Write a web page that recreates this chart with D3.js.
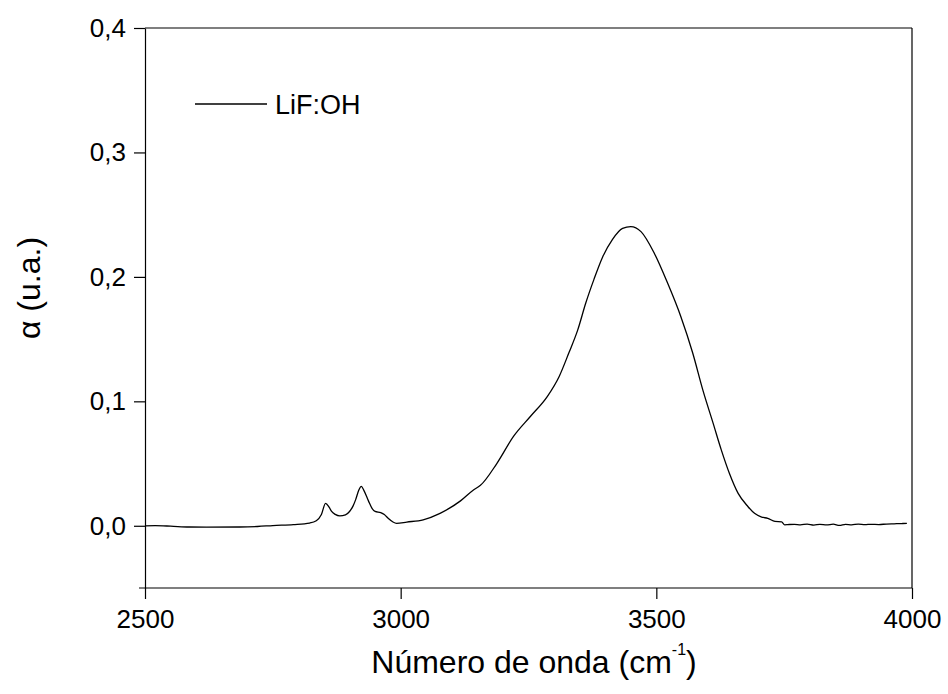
<!DOCTYPE html>
<html>
<head>
<meta charset="utf-8">
<script src="https://cdn.jsdelivr.net/npm/d3@7"></script>
<style>
  html, body { margin: 0; padding: 0; background: #fff; }
  svg { display: block; font-family: "Liberation Sans", Arial, sans-serif; }
</style>
</head>
<body>
<svg id="chart" width="948" height="694"></svg>
<script>
// IR absorption spectrum of LiF:OH
const wavenumber = [
  2500, 2520, 2550, 2586, 2620, 2685, 2720, 2750, 2790, 2822, 2835, 2845, 2853, 2860,
  2865, 2872, 2881, 2892, 2900, 2907, 2912, 2918, 2923, 2928, 2937, 2944, 2950, 2961,
  2968, 2976, 2985, 2992, 3012, 3044, 3077, 3117, 3143, 3156, 3188, 3221, 3254, 3287,
  3310, 3329, 3346, 3362, 3378, 3395, 3414, 3434, 3450, 3470, 3496, 3522, 3548, 3571,
  3591, 3611, 3627, 3643, 3660, 3679, 3692, 3706, 3718, 3732, 3745, 3751, 3758, 3770,
  3782, 3795, 3808, 3820, 3833, 3846, 3858, 3870, 3882, 3895, 3908, 3920, 3935, 3950,
  3965, 3980, 3990
];
const alpha = [
  0.0000, 0.0001, -0.0003, -0.0010, -0.0011, -0.0010, -0.0006, 0.0002, 0.0010, 0.0022, 0.0040, 0.0090, 0.0180, 0.0150,
  0.0115, 0.0092, 0.0080, 0.0088, 0.0115, 0.0160, 0.0210, 0.0285, 0.0316, 0.0285, 0.0200, 0.0140, 0.0115, 0.0105,
  0.0090, 0.0058, 0.0030, 0.0020, 0.0030, 0.0048, 0.0100, 0.0200, 0.0290, 0.0325, 0.0500, 0.0720, 0.0880, 0.1040,
  0.1200, 0.1390, 0.1570, 0.1790, 0.1980, 0.2160, 0.2300, 0.2390, 0.2404, 0.2364, 0.2190, 0.1950, 0.1680, 0.1390,
  0.1090, 0.0825, 0.0610, 0.0420, 0.0260, 0.0155, 0.0100, 0.0070, 0.0060, 0.0035, 0.0032, 0.0008, 0.0010, 0.0012,
  0.0008, 0.0014, 0.0006, 0.0012, 0.0007, 0.0013, 0.0003, 0.0012, 0.0008, 0.0013, 0.0009, 0.0012, 0.0010, 0.0014,
  0.0016, 0.0018, 0.0020
];
const xTicks = [2500, 3000, 3500, 4000];
const xMinorTicks = [2750, 3250, 3750];
const yTicks = [0.0, 0.1, 0.2, 0.3, 0.4];
const yMinorTicks = [-0.05, 0.05, 0.15, 0.25, 0.35];
const seriesName = "LiF:OH";

const svg = d3.select("#chart");
const plotLeft = 145, plotRight = 912, plotTop = 28, plotBottom = 588;

const x = d3.scaleLinear().domain([2500, 4000]).range([plotLeft, plotRight]);
const y = d3.scaleLinear().domain([-0.05, 0.4]).range([plotBottom, plotTop]);

const fmt = d => d3.format(".1f")(d).replace(".", ",");
const tickFont = 26;

// frame (top and right)
svg.append("line").attr("x1", plotLeft).attr("x2", plotRight).attr("y1", plotTop).attr("y2", plotTop)
  .attr("stroke", "#000").attr("stroke-width", 1.2);
svg.append("line").attr("x1", plotRight).attr("x2", plotRight).attr("y1", plotTop).attr("y2", plotBottom)
  .attr("stroke", "#000").attr("stroke-width", 1.2);

// bottom axis
const gx = svg.append("g").attr("transform", `translate(0,${plotBottom})`);
gx.call(d3.axisBottom(x).tickValues(xMinorTicks).tickSize(8).tickFormat(""));
gx.call(d3.axisBottom(x).tickValues(xTicks).tickSize(11).tickSizeOuter(0).tickPadding(0).tickFormat(d3.format("d")));
gx.selectAll("path.domain").attr("d", `M${plotLeft - 6},0H${plotRight}`);
gx.selectAll("text").attr("font-size", tickFont).attr("fill", "#000")
  .attr("font-family", "Liberation Sans, Arial, sans-serif")
  .attr("dy", null).attr("y", 40);
gx.selectAll("line, path").attr("stroke", "#000").attr("stroke-width", 1.2);

// left axis
const gy = svg.append("g").attr("transform", `translate(${plotLeft},0)`);
gy.call(d3.axisLeft(y).tickValues(yMinorTicks).tickSize(6).tickFormat(""));
gy.call(d3.axisLeft(y).tickValues(yTicks).tickSize(11).tickSizeOuter(0).tickPadding(8).tickFormat(fmt));
gy.selectAll("text").attr("font-size", tickFont).attr("fill", "#000").attr("font-family", "Liberation Sans, Arial, sans-serif");
gy.selectAll("line, path").attr("stroke", "#000").attr("stroke-width", 1.2);

// spectrum
const line = d3.line().x((d, i) => x(wavenumber[i])).y(d => y(d)).curve(d3.curveMonotoneX);
svg.append("path").datum(alpha).attr("d", line)
  .attr("fill", "none").attr("stroke", "#000").attr("stroke-width", 1.3);

// legend
svg.append("line").attr("x1", 195).attr("x2", 267).attr("y1", 104).attr("y2", 104)
  .attr("stroke", "#000").attr("stroke-width", 1.3);
svg.append("text").attr("x", 275).attr("y", 114).attr("font-size", 27).text(seriesName);

// axis titles
const xt = svg.append("text").attr("x", 534).attr("y", 673)
  .attr("text-anchor", "middle").attr("font-size", 32);
xt.append("tspan").text("Número de onda (cm");
xt.append("tspan").attr("dy", -18).attr("font-size", 16).text("-1");
xt.append("tspan").attr("dy", 18).text(")");

svg.append("text").attr("transform", `translate(40,288) rotate(-90)`)
  .attr("text-anchor", "middle").attr("font-size", 32).text("α (u.a.)");
</script>
</body>
</html>
